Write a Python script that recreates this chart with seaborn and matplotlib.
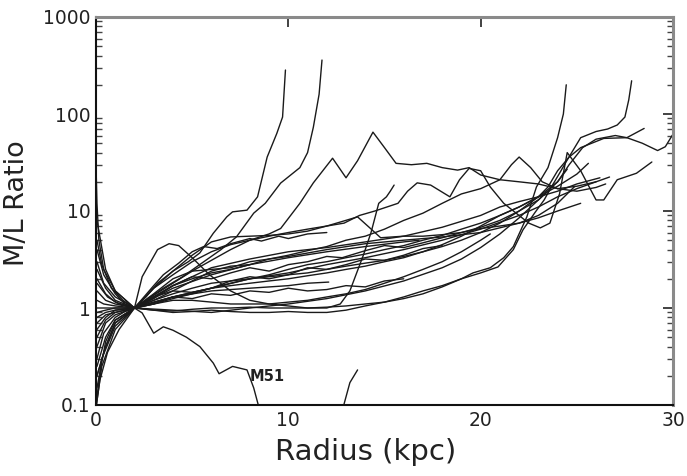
import numpy as np
import pandas as pd
import matplotlib
matplotlib.use("Agg")
import matplotlib.pyplot as plt
import seaborn as sns
from matplotlib.ticker import LogLocator, NullFormatter

# ---- data: radius (kpc) and M/L ratio, one pair of lists per galaxy ----
g01_r = [0.05, 0.4, 1.0, 1.5, 2.0, 2.6, 3.2, 4.0, 4.8, 5.4, 6.1, 6.8, 7.1, 7.85, 8.4, 8.9, 9.4, 9.7, 9.85]
g01_ml = [4.0, 2.2, 1.4, 1.1, 1.0, 1.3, 1.8, 2.4, 3.0, 3.7, 5.9, 8.7, 9.8, 10.2, 14, 36, 63, 93, 284]

g02_r = [0.05, 0.4, 1.0, 1.5, 2.0, 2.7, 3.5, 4.5, 5.5, 6.5, 7.3, 8.2, 8.8, 9.6, 10.6, 11.0, 11.3, 11.6, 11.75]
g02_ml = [0.3, 0.55, 0.8, 0.92, 1.0, 1.25, 1.6, 2.1, 2.9, 4.0, 5.4, 9.5, 12, 19.4, 28, 40, 73, 160, 360]

g03_r = [0.05, 0.5, 1.0, 2.0, 3.0, 4.0, 5.0, 6.0, 7.0, 8.0, 9.0, 9.6, 10.6, 11.3, 12.3, 13.0, 13.6, 14.4,
         15.0, 15.6, 16.4, 17.2, 18.0, 18.8, 19.4, 20.0, 21.0, 22.0, 23.0, 24.0, 25.0, 26.0, 26.7]
g03_ml = [0.15, 0.45, 0.75, 1.0, 1.35, 1.8, 2.4, 3.1, 4.0, 5.0, 5.8, 6.6, 12, 19.5, 35, 22, 33, 65,
          45, 31, 30, 31, 28, 26.4, 28, 23.5, 21, 20, 19, 17, 18, 20, 22.4]

g04_r = [0.05, 0.6, 1.2, 2.0, 3, 4, 5, 6, 7, 8, 9, 10, 11, 12, 13, 14, 15, 16, 17, 18, 19, 19.6,
         20.5, 21.2, 21.7, 22.4, 22.9, 23.5, 24.0, 24.3, 24.45]
g04_ml = [1.8, 1.3, 1.1, 1.0, 0.95, 0.93, 0.97, 1.0, 1.0, 1.02, 1.0, 1.0, 1.0, 1.02, 1.05, 1.1, 1.15,
          1.25, 1.4, 1.65, 2.0, 2.3, 2.6, 3.3, 4.3, 8.7, 17.7, 28, 57, 100, 200]

g05_r = [0.05, 0.5, 1.0, 2.0, 3, 4, 5, 6, 7, 8, 9, 10, 11, 12, 13, 14, 15, 16, 17, 18, 19, 20, 20.9,
         21.7, 22.2, 22.8, 23.3, 23.7, 24.1, 24.5, 25.2, 26.0, 26.6, 27.1, 27.5, 27.7, 27.85]
g05_ml = [0.6, 0.8, 0.95, 1.0, 0.95, 0.9, 0.92, 0.95, 0.92, 0.9, 0.9, 0.92, 0.9, 0.9, 0.95, 1.05, 1.15,
          1.3, 1.5, 1.7, 2.0, 2.3, 2.65, 4.0, 6.4, 9.5, 13, 18, 24.5, 33.6, 57, 66, 70, 77, 93, 140, 220]

g06_r = [0.05, 0.5, 1, 2, 3, 4, 5, 6, 7, 8, 9, 10, 11, 12, 13, 14, 15, 16, 17, 18, 19, 20, 21, 22, 23,
         23.5, 24, 24.6, 25.2, 26.4, 27.6, 28.5]
g06_ml = [2.5, 1.6, 1.2, 1.0, 1.2, 1.4, 1.6, 1.8, 1.9, 2.0, 2.1, 2.2, 2.3, 2.5, 2.7, 2.9, 3.1, 3.4, 3.8,
          4.3, 5.0, 6.0, 7.5, 10, 14, 17.7, 26, 36, 45, 56, 57, 71]

g07_r = [0.05, 0.5, 1, 2, 3, 4, 5, 6, 7, 8, 9, 10, 11, 12, 13, 14, 15, 16, 17, 18, 19, 20, 21, 22, 23,
         24, 24.6, 25.3, 26, 27, 27.6, 28.4, 29.2, 29.6, 30]
g07_ml = [0.8, 0.9, 0.95, 1.0, 1.1, 1.25, 1.4, 1.6, 1.8, 2.0, 2.2, 2.5, 2.8, 3.0, 3.3, 3.6, 4.0, 4.4,
          5.0, 5.6, 6.5, 7.5, 9, 11, 14, 20, 30, 45, 55, 60, 57, 50, 42, 46, 62]

g08_r = [0.05, 0.4, 1.0, 2.0, 3, 4, 5, 6, 7, 8, 9, 10, 11, 12, 12.9, 13.7, 14.5, 15.7, 16.2, 16.7, 17.4,
         18.4, 18.9, 19.4, 20, 20.5, 21.2, 22.5, 23.1, 23.6, 24.1, 24.5, 25.2, 26, 26.4, 27.1, 28.1, 28.9]
g08_ml = [1.2, 1.1, 1.05, 1.0, 1.6, 2.2, 3.0, 3.8, 4.5, 5.0, 5.5, 6.0, 6.5, 7.0, 7.5, 9, 10, 12, 16, 19.5,
          18.5, 14, 21, 27.5, 26, 17.7, 12, 7.5, 6.7, 7.5, 15, 40, 26, 13, 13, 21, 24.5, 32]

g09_r = [0.05, 0.5, 1, 2, 3, 4, 5, 6, 7, 8, 9, 10, 11, 12, 13, 14, 15, 16, 17, 18, 19, 20, 21, 22, 23,
         24, 25, 25.6]
g09_ml = [0.4, 0.7, 0.85, 1.0, 1.15, 1.3, 1.45, 1.6, 1.7, 1.8, 1.9, 2.0, 2.15, 2.3, 2.5, 2.7, 3.0, 3.3,
          3.8, 4.5, 5.5, 7.0, 9.0, 11, 14, 18, 24, 31]

g10_r = [0.05, 0.4, 1, 2, 3, 4, 5, 6, 7, 8, 9, 10, 11, 12, 13, 14, 15, 16, 17, 18, 19, 20, 21, 21.6,
         22, 22.6, 23.2, 24, 25, 26, 26.5]
g10_ml = [3, 1.8, 1.3, 1.0, 1.3, 1.7, 2.0, 2.3, 2.5, 2.8, 3.2, 3.5, 3.9, 4.3, 5.0, 5.5, 6.5, 8, 9.5, 12,
          15, 17, 21, 30, 36, 28, 20, 17, 16, 17.5, 19]

g11_r = [0.05, 0.5, 1, 2, 4, 6, 8, 10, 12, 14, 16, 18, 20, 22, 23, 24, 25, 26]
g11_ml = [0.2, 0.4, 0.7, 1.0, 1.3, 1.6, 2.0, 2.3, 2.8, 3.3, 4.0, 5.0, 6.5, 9, 11, 14, 17, 20]

g12_r = [0.05, 0.5, 1, 2, 3, 4, 5, 6, 7, 8, 9, 10, 12, 14, 16, 18, 20, 22, 23, 24, 24.9]
g12_ml = [8, 2.5, 1.5, 1.0, 1.4, 2.0, 2.4, 2.5, 2.6, 3.0, 3.2, 3.4, 4.0, 4.6, 5.0, 5.4, 6.0, 7.5, 9, 12, 18]

g13_r = [0.05, 0.5, 1.0, 2.0, 2.4, 3.2, 3.8, 4.3, 5.0, 5.9, 7, 8, 9, 10, 11, 12, 12.7, 13.2, 13.9, 14.3,
         14.7, 15.1, 15.3, 15.5]
g13_ml = [0.7, 0.85, 0.9, 1.0, 2.1, 4.0, 4.6, 4.4, 3.3, 2.2, 1.5, 1.2, 1.1, 1.05, 1.0, 1.0, 1.1, 1.5, 3.5,
          6, 12, 14, 16, 18.5]

g14_r = [0.05, 0.5, 1, 2, 3, 4, 5, 6, 7, 8, 9, 10, 11, 12, 12.8, 13.6, 14.2, 14.8, 16, 17, 18, 19, 20,
         21, 22, 23, 24, 25.2]
g14_ml = [0.5, 0.75, 0.9, 1.0, 1.6, 2.4, 3.5, 4.8, 5.4, 5.5, 5.6, 5.8, 6.2, 7.0, 7.8, 8.7, 6.8, 5.3, 5.5,
          5.5, 5.7, 6.0, 6.6, 7.0, 7.5, 8.5, 10, 12]

g15_r = [0.05, 0.5, 1, 2, 4, 6, 8, 10, 12, 14, 16, 18, 19, 20, 21, 22, 23, 24, 24.5]
g15_ml = [1.5, 1.2, 1.1, 1.0, 0.95, 0.9, 1.0, 1.1, 1.25, 1.5, 1.9, 2.6, 3.2, 4.2, 5.8, 8.5, 13, 20, 27]

g16_r = [0.02, 0.3, 1, 2, 4, 6, 8, 10, 11, 12.1]
g16_ml = [0.1, 0.25, 0.6, 1.0, 1.3, 1.5, 1.6, 1.7, 1.8, 1.85]

g17_r = [0.05, 0.5, 1, 2, 4, 6, 8, 10, 12, 14, 16, 16.8]
g17_ml = [1.0, 1.0, 1.0, 1.0, 1.6, 2.2, 2.8, 3.3, 3.8, 4.3, 4.8, 5.0]

g18_r = [0.05, 0.5, 1, 2, 4, 6, 8, 10, 12, 14, 16, 18, 20, 21, 22, 23, 24, 25, 26.2]
g18_ml = [0.9, 0.95, 1.0, 1.0, 1.7, 2.6, 3.2, 3.8, 4.2, 4.8, 5.5, 6.8, 9, 11, 12.5, 14, 16, 19, 22]

g19_r = [0.0, 0.05, 0.15, 0.4, 1.0, 2.0, 3, 4, 5, 6, 7, 8]
g19_ml = [30, 12, 5, 2.5, 1.5, 1.0, 1.2, 1.5, 1.9, 2.4, 2.7, 2.8]

g20_r = [0.02, 0.2, 0.6, 1.2, 2, 3, 4, 5, 6, 7, 8, 9, 10, 11, 12, 13, 14, 15, 16, 17, 18, 19, 20, 20.5]
g20_ml = [0.1, 0.18, 0.35, 0.6, 1.0, 1.1, 1.2, 1.2, 1.15, 1.1, 1.1, 1.1, 1.15, 1.2, 1.3, 1.4, 1.55, 1.8,
          2.1, 2.5, 3.0, 3.8, 5.0, 5.8]

g21_r = [0.05, 0.5, 1, 2, 3, 4, 5, 6, 7, 8, 9, 10, 11, 12, 13, 14, 15, 16, 17, 18]
g21_ml = [0.25, 0.5, 0.75, 1.0, 1.3, 1.5, 1.45, 1.6, 1.9, 2.1, 2.0, 2.2, 2.6, 2.5, 2.8, 3.2, 3.1, 3.5, 4.1, 4.4]

g22_r = [0.05, 0.5, 1, 2, 3, 4, 5, 6, 7, 8, 9, 10, 11, 12, 12.8, 14, 15, 16, 17, 18, 19, 20, 21, 22, 23, 23.5]
g22_ml = [2.0, 1.4, 1.15, 1.0, 1.25, 1.7, 2.1, 2.0, 2.3, 2.6, 2.4, 2.8, 3.0, 3.4, 3.3, 3.9, 4.4, 4.2, 4.7,
          5.3, 6.0, 6.8, 8.0, 10, 13, 16]

g23_r = [0.05, 0.3, 1, 2, 3, 4, 5, 6, 7, 8, 9, 10, 11, 12, 13, 14, 15, 16]
g23_ml = [0.12, 0.3, 0.65, 1.0, 1.1, 1.3, 1.25, 1.4, 1.35, 1.5, 1.45, 1.6, 1.5, 1.55, 1.7, 1.65, 1.9, 2.0]

g24_r = [0.05, 0.3, 0.8, 1.4, 2, 3, 3.5, 4.3, 5, 5.6, 6.3, 7, 8, 8.6, 9.5, 10, 11, 12]
g24_ml = [5.0, 2.8, 1.6, 1.2, 1.0, 1.7, 2.2, 2.9, 3.8, 4.3, 4.1, 4.6, 5.2, 4.9, 5.5, 5.2, 5.8, 6.0]

m51_r = [0.05, 0.5, 1.0, 2.0, 2.4, 3.0, 3.5, 4.0, 4.7, 5.4, 6.1, 6.4, 7.1, 7.85, 8.2, 8.5]
m51_ml = [0.2, 0.4, 0.7, 1.0, 0.89, 0.55, 0.64, 0.59, 0.5, 0.4, 0.27, 0.21, 0.25, 0.23, 0.15, 0.09]

m51_outer_r = [12.75, 13.2, 13.6]
m51_outer_ml = [0.08, 0.17, 0.23]

x_ticks = [0, 10, 20, 30]
x_tick_labels = ["0", "10", "20", "30"]
y_ticks = [0.1, 1, 10, 100, 1000]
y_tick_labels = ["0.1", "1", "10", "100", "1000"]

curves = [
    ("g01", g01_r, g01_ml), ("g02", g02_r, g02_ml), ("g03", g03_r, g03_ml), ("g04", g04_r, g04_ml),
    ("g05", g05_r, g05_ml), ("g06", g06_r, g06_ml), ("g07", g07_r, g07_ml), ("g08", g08_r, g08_ml),
    ("g09", g09_r, g09_ml), ("g10", g10_r, g10_ml), ("g11", g11_r, g11_ml), ("g12", g12_r, g12_ml),
    ("g13", g13_r, g13_ml), ("g14", g14_r, g14_ml), ("g15", g15_r, g15_ml), ("g16", g16_r, g16_ml),
    ("g17", g17_r, g17_ml), ("g18", g18_r, g18_ml), ("g19", g19_r, g19_ml), ("g20", g20_r, g20_ml),
    ("g21", g21_r, g21_ml), ("g22", g22_r, g22_ml), ("g23", g23_r, g23_ml), ("g24", g24_r, g24_ml),
    ("M51", m51_r, m51_ml), ("M51b", m51_outer_r, m51_outer_ml),
]

rows = []
for name, rr, mm in curves:
    for a, b in zip(rr, mm):
        rows.append({"galaxy": name, "radius": a, "ml": b})
df = pd.DataFrame(rows)

# ---- figure ----
sns.set_style("white")
plt.rcParams["font.family"] = ["DejaVu Sans"]

fig = plt.figure(figsize=(6.87, 4.76), dpi=100)
ax = fig.add_axes([96 / 687, 1 - 405 / 476, 577 / 687, 388 / 476])

sns.lineplot(data=df, x="radius", y="ml", units="galaxy", estimator=None, sort=False,
             color="#1a1a1a", linewidth=1.0, ax=ax, legend=False)

ax.set_yscale("log")
ax.set_xlim(0, 30)
ax.set_ylim(0.1, 1000)

ax.set_xticks(x_ticks)
ax.set_xticklabels(x_tick_labels)
ax.set_yticks(y_ticks)
ax.set_yticklabels(y_tick_labels)
ax.yaxis.set_minor_locator(LogLocator(base=10, subs=np.arange(2, 10)))
ax.yaxis.set_minor_formatter(NullFormatter())

ax.tick_params(axis="both", which="major", direction="in", labelsize=13.5, colors="#222222",
               top=True, right=True, length=7, width=1.2, pad=4)
ax.tick_params(axis="y", which="minor", direction="in", left=True, right=True, length=4, width=1.0,
               colors="#444444")

for side in ["left", "bottom"]:
    ax.spines[side].set_color("#111111")
    ax.spines[side].set_linewidth(1.5)
for side in ["top", "right"]:
    ax.spines[side].set_color("#8a8a8a")
    ax.spines[side].set_linewidth(2.2)

ax.set_xlabel("Radius (kpc)", fontsize=21, color="#222222")
ax.set_ylabel("M/L Ratio", fontsize=19.5, color="#222222")
ax.xaxis.set_label_coords(0.468, -0.085)
ax.yaxis.set_label_coords(-0.115, 0.52)

ax.text(8.9, 0.195, "M51", fontsize=10.5, fontweight="bold", color="#222222", ha="center", va="center")

fig.savefig("out.png", dpi=100)
